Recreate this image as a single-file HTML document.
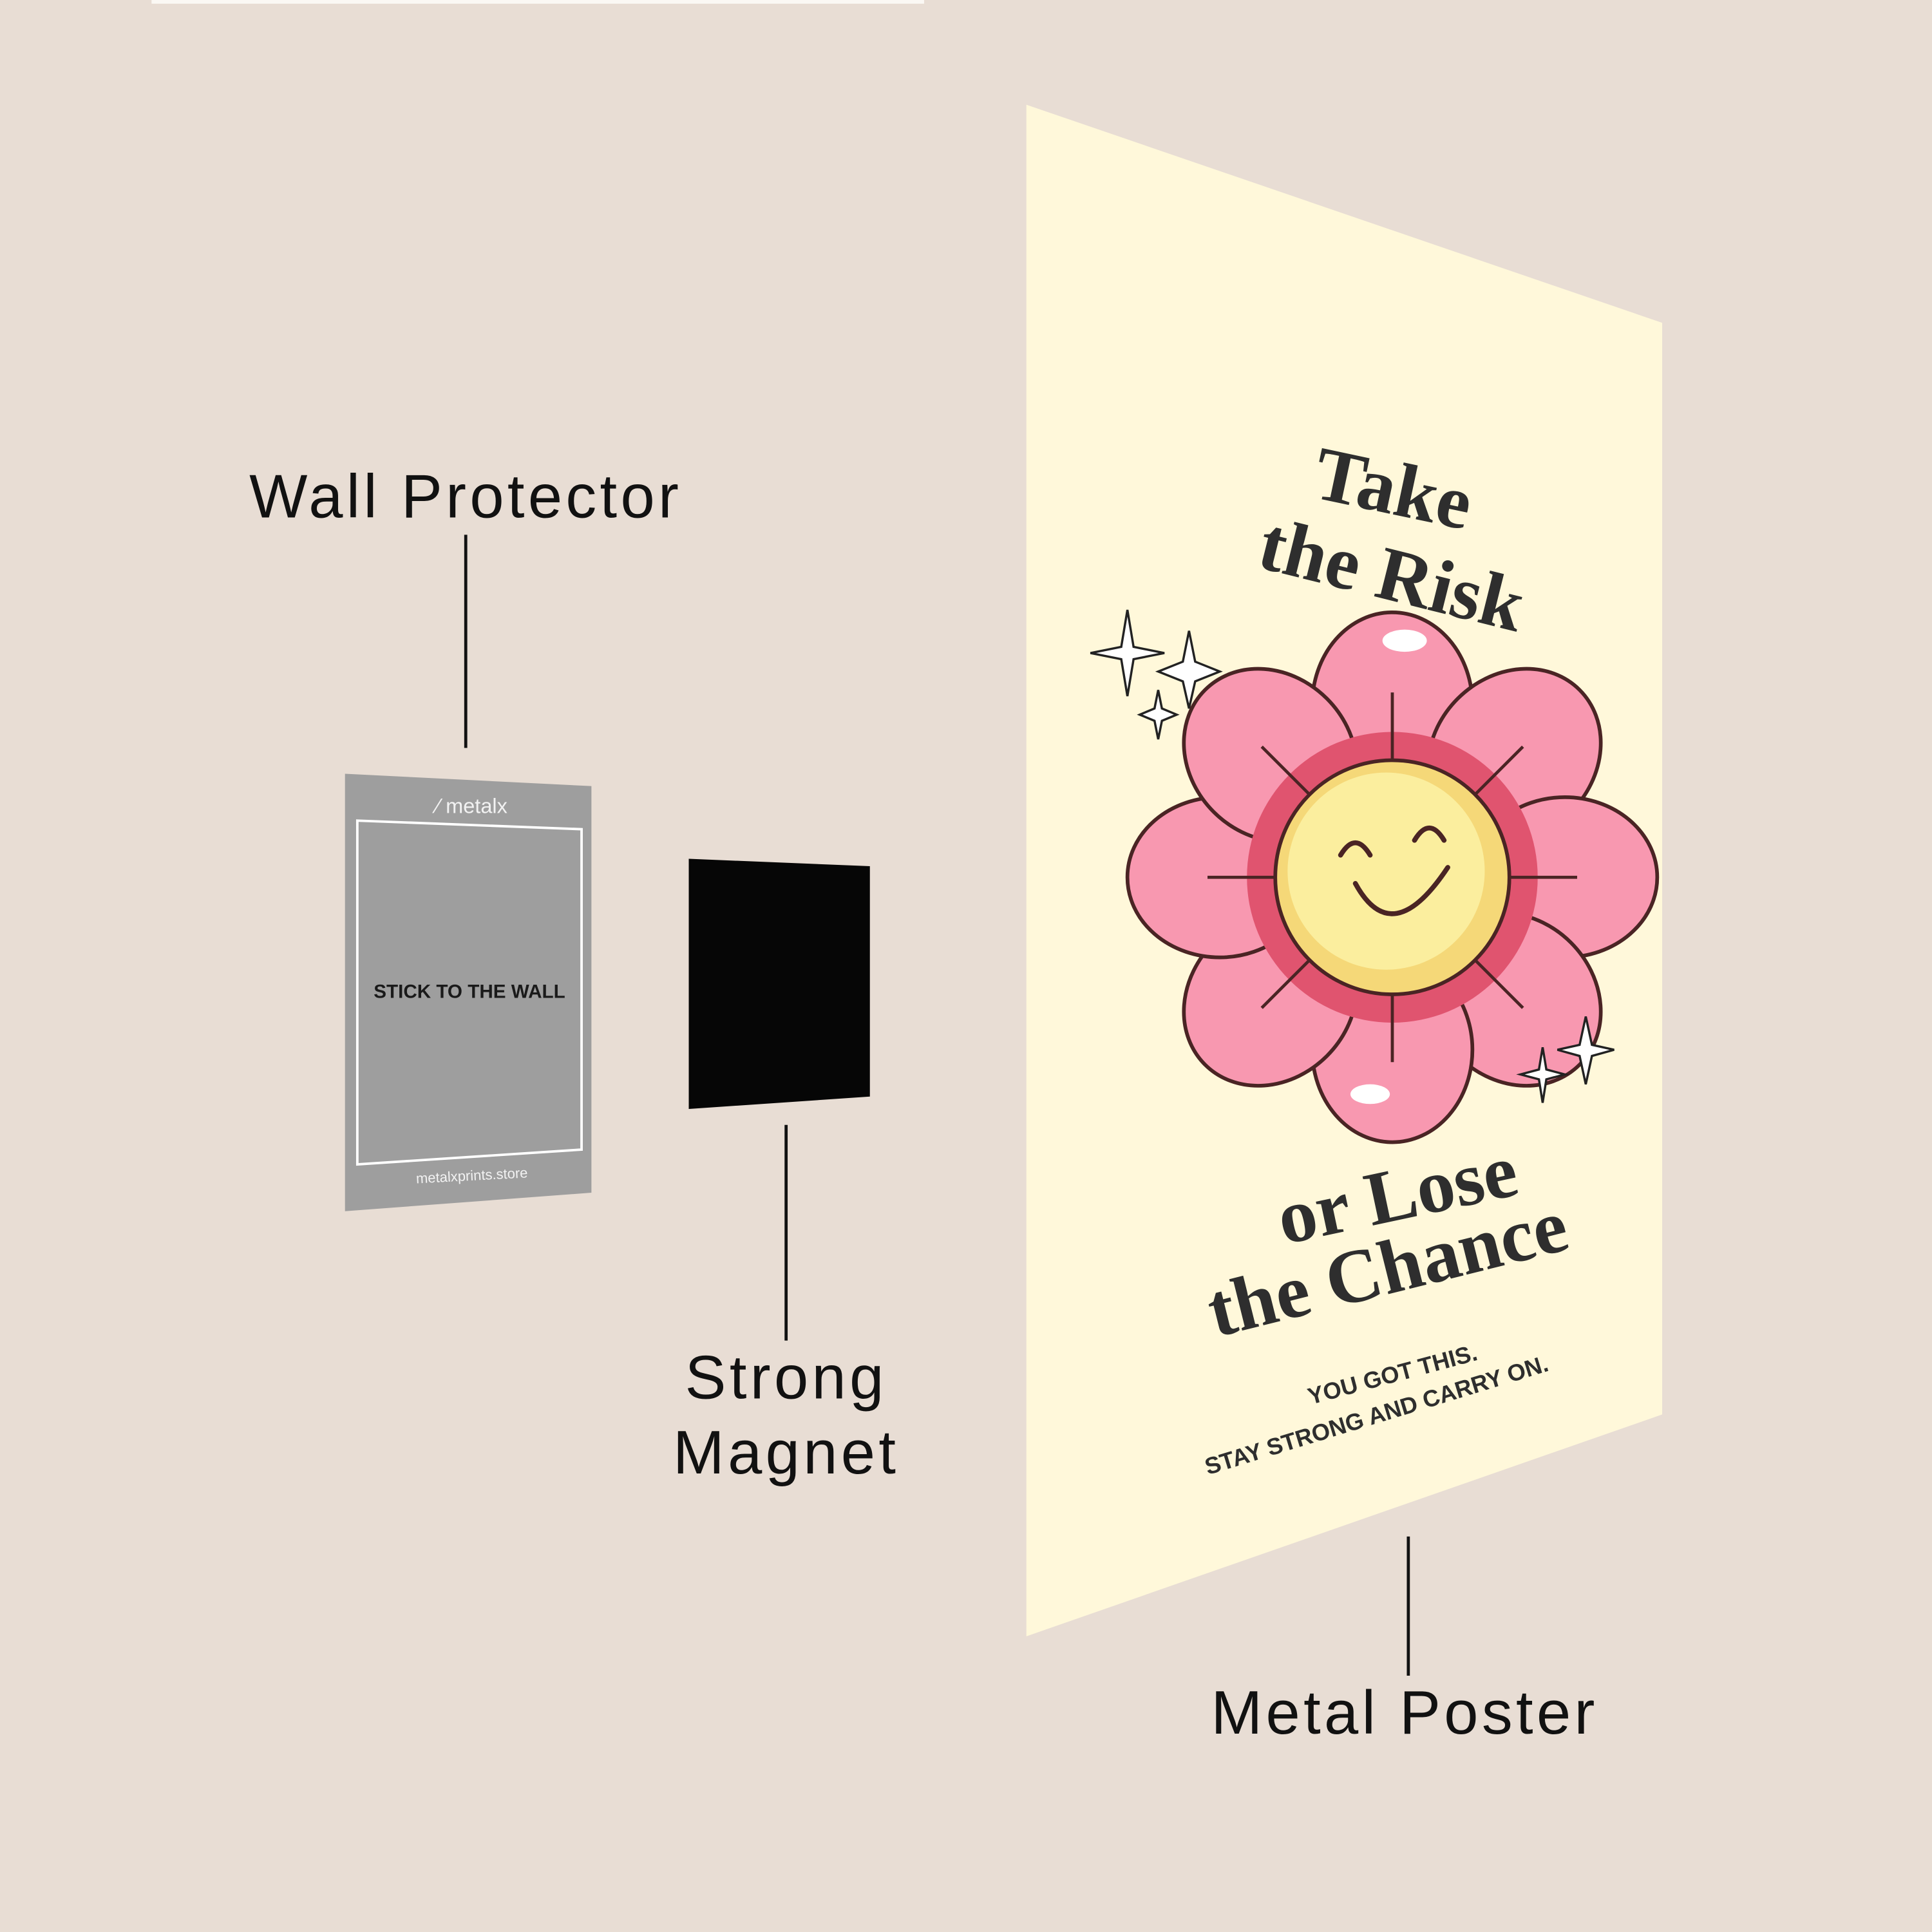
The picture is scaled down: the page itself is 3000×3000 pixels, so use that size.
<!DOCTYPE html>
<html><head><meta charset="utf-8"><style>
html,body{margin:0;padding:0;width:3000px;height:3000px;background:#e8ddd4;overflow:hidden}
svg{display:block}
</style></head><body>
<svg width="3000" height="3000" viewBox="0 0 1568 1568" xmlns="http://www.w3.org/2000/svg">
<rect width="1568" height="1568" fill="#e8ddd4"/>
<rect x="123" y="0" width="627" height="3" fill="#fbf8f4"/>
<g font-family="Liberation Sans, sans-serif" fill="#111" text-anchor="middle" letter-spacing="2.8">
<text x="378" y="420" font-size="50">Wall Protector</text>
<text x="638" y="1135" font-size="50">Strong</text>
<text x="638" y="1196" font-size="50">Magnet</text>
<text x="1140" y="1407" font-size="50">Metal Poster</text>
</g>
<g stroke="#111" stroke-width="2.5">
<line x1="378" y1="434" x2="378" y2="607"/>
<line x1="638" y1="913" x2="638" y2="1088"/>
<line x1="1143" y1="1247" x2="1143" y2="1360"/>
</g>
<polygon points="280,628 480,638 480,968 280,983" fill="#9e9e9e"/>
<polygon points="290,666 472,673 472,933 290,945" fill="none" stroke="#fff" stroke-width="2"/>
<text x="383" y="660" font-family="Liberation Sans, sans-serif" font-size="17" fill="#f2f2f2" text-anchor="middle">⁄ metalx</text>
<text x="381" y="810" font-family="Liberation Sans, sans-serif" font-weight="bold" font-size="15.5" fill="#1a1a1a" text-anchor="middle">STICK TO THE WALL</text>
<text x="383" y="958" font-family="Liberation Sans, sans-serif" font-size="11.5" fill="#f2f2f2" text-anchor="middle" transform="rotate(-3 383 955)">metalxprints.store</text>
<polygon points="559,697 706,703 706,890 559,900" fill="#060606"/>
<polygon points="833,85 1349,262 1349,1148 833,1328" fill="#fff8da"/>
<g font-family="Liberation Serif, serif" font-weight="bold" fill="#2e2e2e" text-anchor="middle">
<text x="1130" y="417" font-size="62" transform="rotate(12 1130 400)">Take</text>
<text x="1130" y="487" font-size="62" transform="rotate(14 1130 465)">the Risk</text>
<text x="1133" y="990" font-size="62" transform="rotate(-12 1133 965)">or Lose</text>
<text x="1125" y="1050" font-size="62" transform="rotate(-14 1125 1025)">the Chance</text>
</g>
<g font-family="Liberation Sans, sans-serif" font-weight="bold" fill="#2e2e2e" text-anchor="middle" font-size="19">
<text x="1130" y="1122" transform="rotate(-15 1130 1115)">YOU GOT THIS.</text>
<text x="1117" y="1155" transform="rotate(-17 1117 1148)">STAY STRONG AND CARRY ON.</text>
</g>
<g stroke="#222" stroke-width="1.8" fill="#fff">
<path d="M915,495 L920,525 L945,530 L920,535 L915,565 L910,535 L885,530 L910,525Z"/>
<path d="M965,512 L970,537 L990,545 L970,553 L965,575 L960,553 L940,545 L960,537Z"/>
<path d="M940,560 L943,575 L955,580 L943,585 L940,600 L937,585 L925,580 L937,575Z"/>
</g>
<g transform="translate(1130,712)" stroke="#4a2424" stroke-width="3">
<g fill="#f898b0">
<ellipse cx="0" cy="-140" rx="65" ry="75"/>
<ellipse cx="99" cy="-99" rx="65" ry="75" transform="rotate(45 99 -99)"/>
<ellipse cx="140" cy="0" rx="65" ry="75" transform="rotate(90 140 0)"/>
<ellipse cx="99" cy="99" rx="65" ry="75" transform="rotate(135 99 99)"/>
<ellipse cx="0" cy="140" rx="65" ry="75"/>
<ellipse cx="-99" cy="99" rx="65" ry="75" transform="rotate(45 -99 99)"/>
<ellipse cx="-140" cy="0" rx="65" ry="75" transform="rotate(90 -140 0)"/>
<ellipse cx="-99" cy="-99" rx="65" ry="75" transform="rotate(135 -99 -99)"/>
</g>
<circle r="118" fill="#e0546f" stroke="none"/>
<g stroke-width="2.5">
<line x1="0" y1="-150" x2="0" y2="150"/><line x1="-150" y1="0" x2="150" y2="0"/>
<line x1="-106" y1="-106" x2="106" y2="106"/><line x1="-106" y1="106" x2="106" y2="-106"/>
</g>
<circle r="95" fill="#f5d878"/>
<circle r="80" cx="-5" cy="-5" fill="#fbee9e" stroke="none"/>
<g fill="#fff" stroke="none">
<ellipse cx="10" cy="-192" rx="18" ry="9"/><ellipse cx="-18" cy="176" rx="16" ry="8"/>
</g>
<g fill="none" stroke-width="4" stroke-linecap="round">
<path d="M-42,-18 Q-30,-38 -18,-18"/><path d="M18,-30 Q30,-50 42,-30"/>
<path d="M-30,5 Q0,60 45,-8"/>
</g>
</g>
<g stroke="#222" stroke-width="1.8" fill="#fff">
<path d="M1287,825 L1292,848 L1310,852 L1292,857 L1287,880 L1282,857 L1264,852 L1282,848Z"/>
<path d="M1252,850 L1255,868 L1270,872 L1255,876 L1252,895 L1249,876 L1234,872 L1249,868Z"/>
</g>
</svg>
</body></html>
